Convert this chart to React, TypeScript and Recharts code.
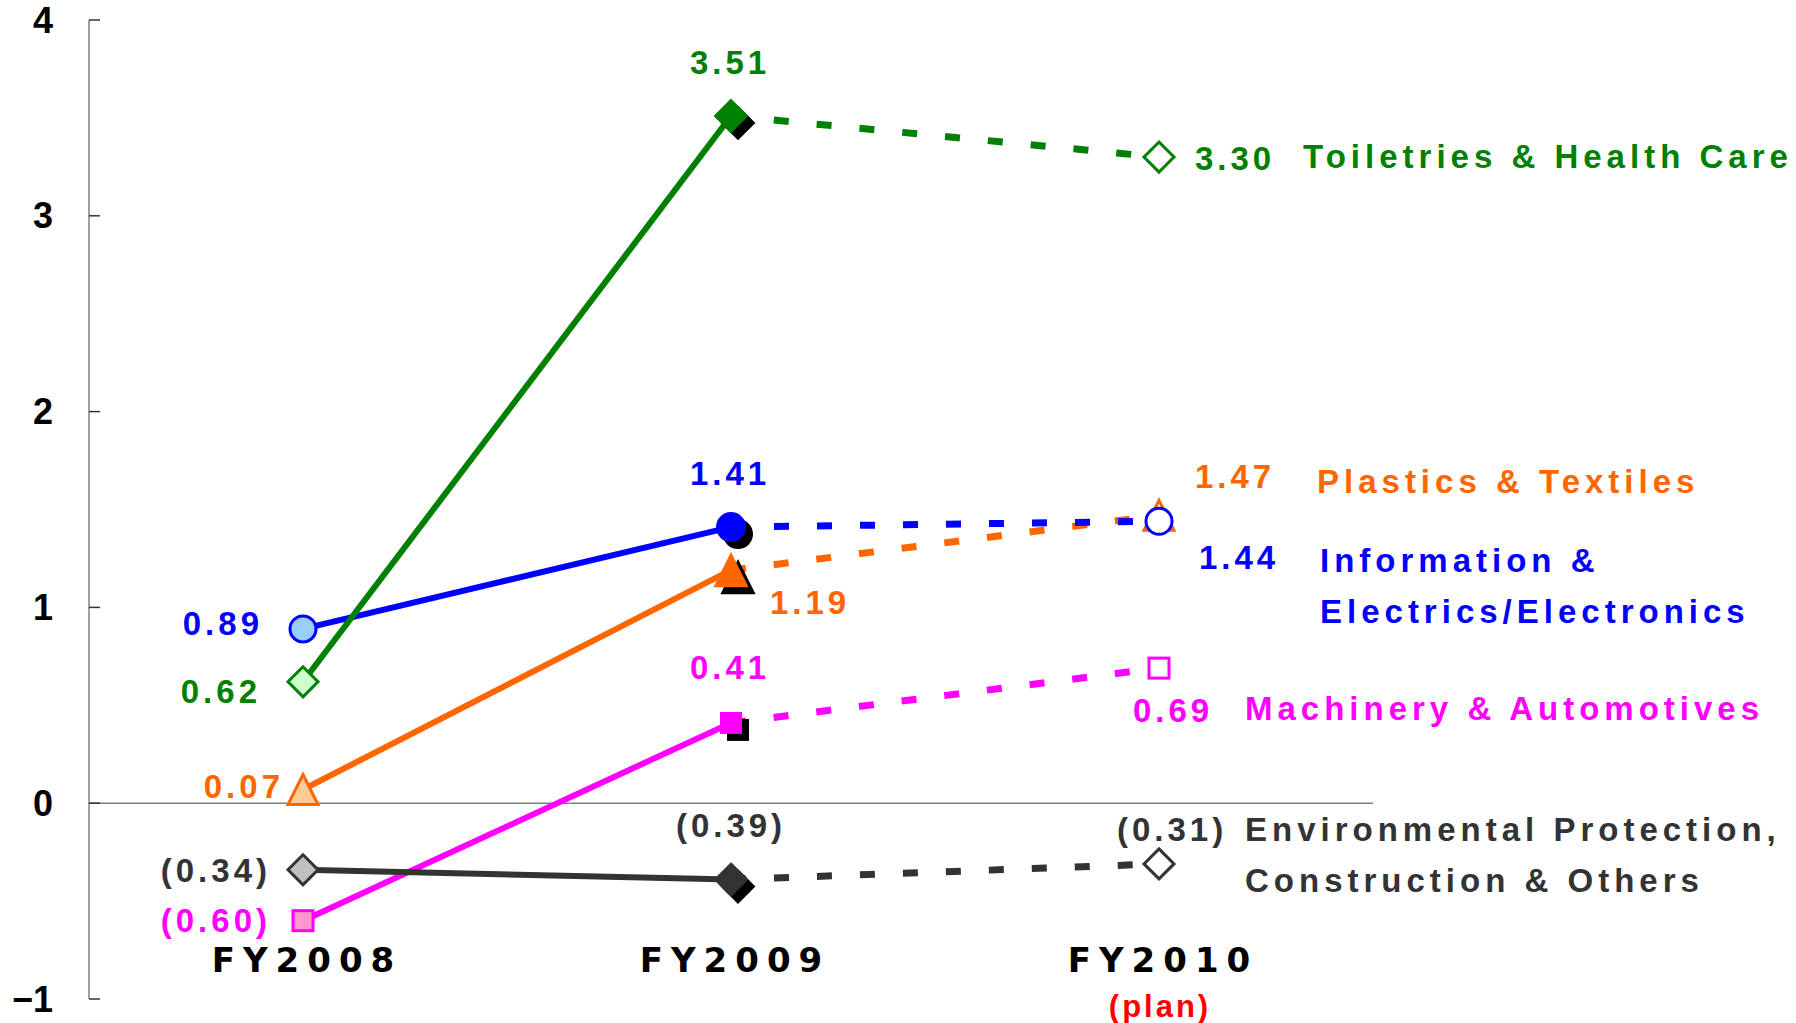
import React from 'react';
import { LineChart, Line, XAxis, YAxis, ReferenceLine } from 'recharts';

// ---------- data ----------
const categories = ['FY2008', 'FY2009', 'FY2010'];
const planNote = '(plan)';
const yTicks = [-1, 0, 1, 2, 3, 4];

const toiletries = [0.62, 3.51, 3.3];
const information = [0.89, 1.41, 1.44];
const plastics = [0.07, 1.19, 1.47];
const machinery = [-0.6, 0.41, 0.69];
const environmental = [-0.34, -0.39, -0.31];

const toiletriesName = ['Toiletries & Health Care'];
const informationName = ['Information &', 'Electrics/Electronics'];
const plasticsName = ['Plastics & Textiles'];
const machineryName = ['Machinery & Automotives'];
const environmentalName = ['Environmental Protection,', 'Construction & Others'];

// ---------- styles ----------
const FONT = "'Liberation Sans', Arial, sans-serif";

type Shape = 'diamond' | 'circle' | 'triangle' | 'square';

type Series = {
  key: string;
  values: number[];
  names: string[];
  color: string;
  light: string;
  shape: Shape;
  labels: [number, number, 'start' | 'middle' | 'end'][];
  name: [number, number];
};

const series: Series[] = [
  {
    key: 'mach', values: machinery, names: machineryName, color: '#FF00FF', light: '#FF99CC', shape: 'square',
    labels: [[-32, 0, 'end'], [-1, -55, 'middle'], [-26, 42, 'start']], name: [86, 40],
  },
  {
    key: 'plas', values: plastics, names: plasticsName, color: '#FF6600', light: '#FFCC99', shape: 'triangle',
    labels: [[-19, -3, 'end'], [39, 32, 'start'], [36, -39, 'start']], name: [158, -34],
  },
  {
    key: 'info', values: information, names: informationName, color: '#0000FF', light: '#99CCFF', shape: 'circle',
    labels: [[-40, -5, 'end'], [-1, -54, 'middle'], [40, 36, 'start']], name: [161, 39],
  },
  {
    key: 'toil', values: toiletries, names: toiletriesName, color: '#008000', light: '#CCFFCC', shape: 'diamond',
    labels: [[-42, 10, 'end'], [-1, -53, 'middle'], [36, 1, 'start']], name: [144, -1],
  },
  {
    key: 'env', values: environmental, names: environmentalName, color: '#333333', light: '#C0C0C0', shape: 'diamond',
    labels: [[-32, 1, 'end'], [0, -54, 'middle'], [-42, -34, 'start']], name: [86, -34],
  },
];

const data = categories.map((cat, i) => {
  const row: Record<string, any> = { cat };
  series.forEach((s) => {
    row[s.key + '_a'] = i <= 1 ? s.values[i] : null;
    row[s.key + '_b'] = i >= 1 ? s.values[i] : null;
  });
  return row;
});

const fmt = (v: number) => (v < 0 ? `(${Math.abs(v).toFixed(2)})` : v.toFixed(2));

function shapeEl(shape: Shape, cx: number, cy: number, fill: string, stroke: string, sw: number, big: boolean) {
  const h = big ? 16 : 15;
  if (shape === 'diamond') {
    return <path d={`M${cx},${cy - h}L${cx + h},${cy}L${cx},${cy + h}L${cx - h},${cy}Z`} fill={fill} stroke={stroke} strokeWidth={sw} strokeLinejoin="miter" />;
  }
  if (shape === 'circle') {
    return <circle cx={cx} cy={cy} r={big ? 14 : 13} fill={fill} stroke={stroke} strokeWidth={sw} />;
  }
  if (shape === 'triangle') {
    return <path d={`M${cx},${cy - h}L${cx + h},${cy + h}L${cx - h},${cy + h}Z`} fill={fill} stroke={stroke} strokeWidth={sw} strokeLinejoin="miter" />;
  }
  const q = 10;
  return <rect x={cx - q} y={cy - q} width={2 * q} height={2 * q} fill={fill} stroke={stroke} strokeWidth={sw} />;
}

const textStyle = (color: string, ls: number) => ({
  fill: color,
  fontFamily: FONT,
  fontWeight: 700,
  fontSize: 33,
  letterSpacing: ls,
});

function makeDot(s: Series, phase: 'a' | 'b') {
  return (props: any) => {
    const { cx, cy, index } = props;
    const k = `${s.key}-${phase}-${index}`;
    if (cx == null || cy == null || (phase === 'a' && index > 1) || (phase === 'b' && index < 2)) {
      return <g key={k} />;
    }
    const [ldx, ldy, anchor] = s.labels[index];
    let marker;
    if (index === 0) {
      marker = shapeEl(s.shape, cx, cy, s.light, s.color, 3, false);
    } else if (index === 1) {
      marker = (
        <g>
          {shapeEl(s.shape, cx + 7, cy + 7, '#000000', '#000000', 2, true)}
          {shapeEl(s.shape, cx, cy, s.color, s.color, 2, true)}
        </g>
      );
    } else {
      marker = shapeEl(s.shape, cx, cy, '#FFFFFF', s.color, 3, false);
    }
    return (
      <g key={k}>
        {marker}
        <text x={cx + ldx} y={cy + ldy} textAnchor={anchor} dominantBaseline="central" style={textStyle(s.color, 4)}>
          {fmt(s.values[index])}
        </text>
        {index === 2 &&
          s.names.map((n, j) => (
            <text key={j} x={cx + s.name[0]} y={cy + s.name[1] + j * 51} textAnchor="start" dominantBaseline="central" style={textStyle(s.color, 5)}>
              {n}
            </text>
          ))}
      </g>
    );
  };
}

const XTick = (props: any) => {
  const { x, y, payload } = props;
  return (
    <g>
      <text x={x} y={y - 39} textAnchor="middle" dominantBaseline="central"
        style={{ fill: '#000', fontFamily: "'DejaVu Sans', sans-serif", fontWeight: 700, fontSize: 34, letterSpacing: 8 }} dx={4}>
        {payload.value}
      </text>
      {payload.value === categories[2] && (
        <text x={x} y={y + 7} textAnchor="middle" dominantBaseline="central"
          style={{ fill: '#FF0000', fontFamily: FONT, fontWeight: 700, fontSize: 31, letterSpacing: 3 }} dx={1}>
          {planNote}
        </text>
      )}
    </g>
  );
};

const YTick = (props: any) => {
  const { x, y, payload } = props;
  const v = payload.value as number;
  const label = v < 0 ? `\u2212${Math.abs(v)}` : `${v}`;
  return (
    <g>
      <line x1={x} y1={y} x2={x + 11} y2={y} stroke="#333" strokeWidth={1.5} />
      <text x={x - 36} y={y} textAnchor="end" dominantBaseline="central"
        style={{ fill: '#000', fontFamily: FONT, fontWeight: 700, fontSize: 36 }}>
        {label}
      </text>
    </g>
  );
};

export default function App() {
  return (
    <div style={{ position: 'absolute', left: 0, top: 0, width: 1796, height: 1023, background: '#fff' }}>
      <LineChart width={1796} height={1023} data={data} margin={{ top: 20, right: 423, bottom: 0, left: 29 }}>
        <XAxis dataKey="cat" type="category" padding={{ left: 214, right: 214 }} axisLine={false} tickLine={false}
          tickSize={0} tickMargin={0} height={24} interval={0} tick={<XTick />} />
        <YAxis type="number" domain={[-1, 4]} ticks={yTicks} width={60} interval={0} allowDataOverflow
          axisLine={{ stroke: '#808080', strokeWidth: 1.5 }} tickLine={false} tickSize={0} tickMargin={0} tick={<YTick />} />
        <ReferenceLine y={0} stroke="#808080" strokeWidth={1.5} ifOverflow="extendDomain" />
        {series.map((s) => [
          <Line key={s.key + '_b'} dataKey={s.key + '_b'} type="linear" stroke={s.color} strokeWidth={7}
            strokeDasharray="15 28" dot={makeDot(s, 'b')} activeDot={false} isAnimationActive={false} connectNulls={false} />,
          <Line key={s.key + '_a'} dataKey={s.key + '_a'} type="linear" stroke={s.color} strokeWidth={6}
            dot={makeDot(s, 'a')} activeDot={false} isAnimationActive={false} connectNulls={false} />,
        ])}
      </LineChart>
    </div>
  );
}
